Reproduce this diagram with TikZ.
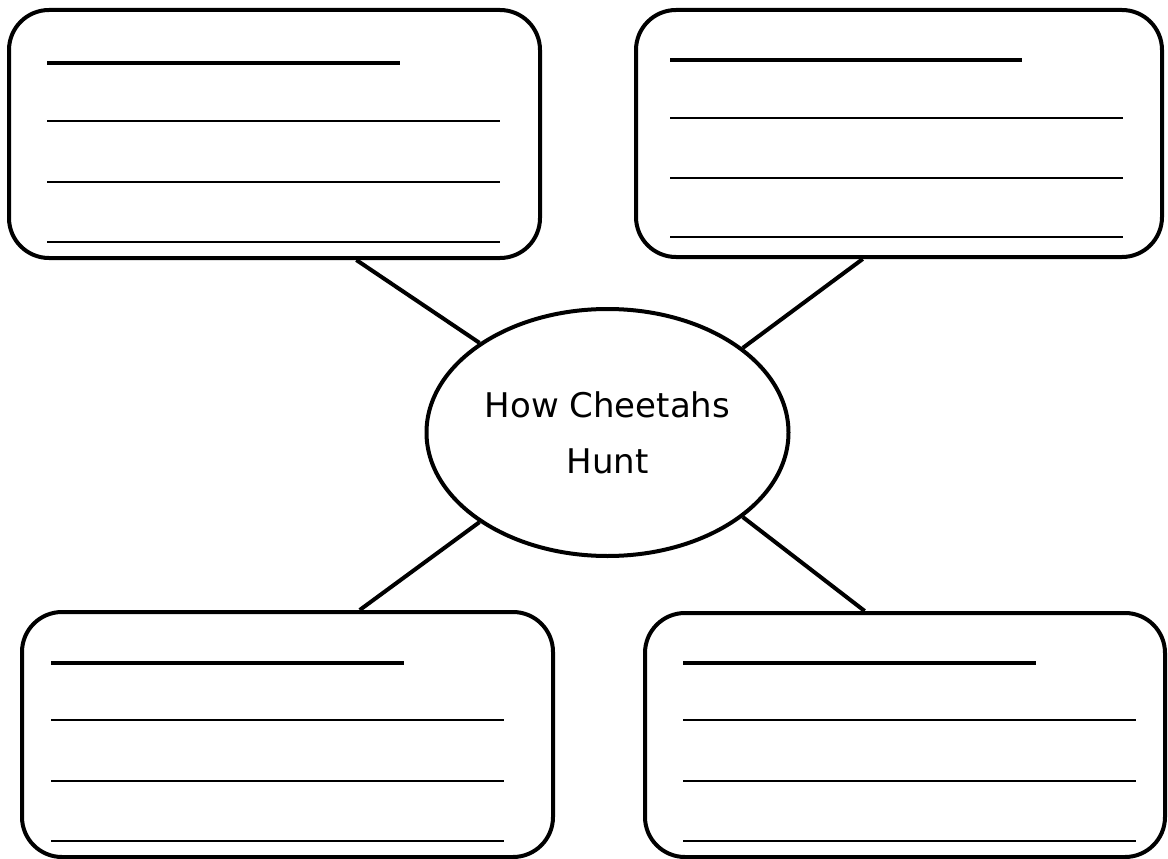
\documentclass[tikz,border=0pt]{standalone}
\usepackage{fontspec}
\setmainfont{DejaVu Sans}
\usetikzlibrary{shapes.geometric,calc}
\tikzset{
  box/.style={draw=black, line width=4pt, rounded corners=40pt, rectangle, inner sep=0pt},
  hub/.style={draw=black, line width=4pt, ellipse, inner sep=0pt, minimum width=362pt, minimum height=247pt, align=center, font=\fontsize{34}{56}\selectfont},
  conn/.style={draw=black, line width=4pt},
  headline/.style={line width=4pt},
  writeline/.style={line width=2.5pt}
}
\begin{document}
\begin{tikzpicture}[x=1pt,y=-1pt]
\useasboundingbox (0,0) rectangle (1168,859);
\fill[white] (0,0) rectangle (1168,859);
% boxes
\node[box, minimum width=531pt, minimum height=248pt] (tl) at (274.5,134) {};
\node[box, minimum width=526pt, minimum height=247pt] (tr) at (899,133.5) {};
\node[box, minimum width=531pt, minimum height=245pt] (bl) at (287.5,734.5) {};
\node[box, minimum width=520pt, minimum height=244pt] (br) at (905,735) {};
% centre
\node[hub] (el) at (607.5,432.5) {How Cheetahs\\Hunt};
% connectors
\draw[conn] (el.145) -- ($(tl.south west)!0.653!(tl.south east)$);
\draw[conn] (el.32) -- ($(tr.south west)!0.4316!(tr.south east)$);
\draw[conn] (el.215.7) -- ($(bl.north west)!0.635!(bl.north east)$);
\draw[conn] (el.328) -- ($(br.north west)!0.423!(br.north east)$);
% writing lines, top left
\draw[headline] (47,63) -- (400,63);
\draw[writeline] (47,121) -- (500,121);
\draw[writeline] (47,182) -- (500,182);
\draw[writeline] (47,242) -- (500,242);
% top right
\draw[headline] (670,60) -- (1022,60);
\draw[writeline] (670,118) -- (1123,118);
\draw[writeline] (670,178) -- (1123,178);
\draw[writeline] (670,237) -- (1123,237);
% bottom left
\draw[headline] (51,663) -- (404,663);
\draw[writeline] (51,720) -- (504,720);
\draw[writeline] (51,781) -- (504,781);
\draw[writeline] (51,841) -- (504,841);
% bottom right
\draw[headline] (683,663) -- (1036,663);
\draw[writeline] (683,720) -- (1136,720);
\draw[writeline] (683,781) -- (1136,781);
\draw[writeline] (683,841) -- (1136,841);
\end{tikzpicture}
\end{document}
